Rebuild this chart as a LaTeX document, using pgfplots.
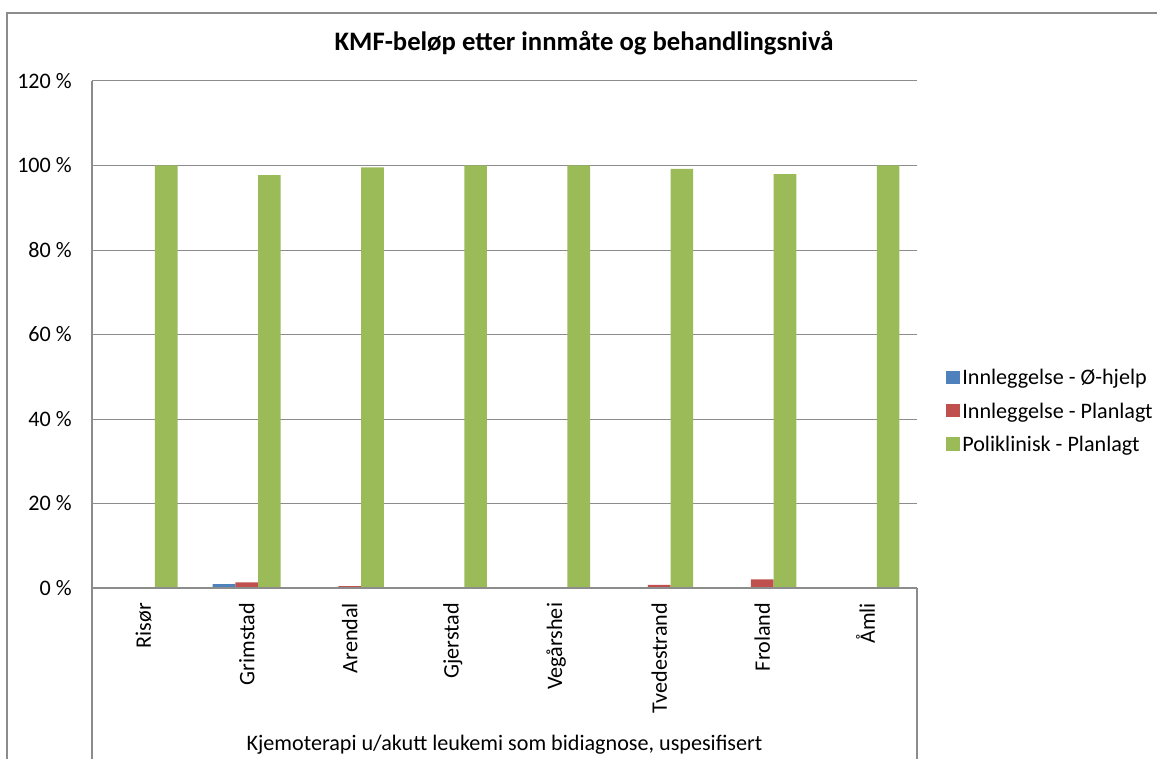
\documentclass[border=0pt]{standalone}
\usepackage{fontspec}
\setmainfont{Carlito}
\usepackage{pgfplots}
\pgfplotsset{compat=1.18}
\definecolor{cBlue}{HTML}{4F81BD}
\definecolor{cRed}{HTML}{C0504D}
\definecolor{cGreen}{HTML}{9BBB59}
\definecolor{cGrid}{HTML}{8C8C8C}
\begin{document}
\fontsize{16.6pt}{20pt}\selectfont
\begin{tikzpicture}
\path[use as bounding box] (0,0) rectangle (867.75pt,568.5pt);
\draw[cGrid, line width=1pt] (5.25pt,-2pt) -- (5.25pt,558.75pt) -- (870pt,558.75pt);
\node[font=\fontsize{20pt}{24pt}\selectfont\bfseries] at (438pt,536.25pt) {KMF-beløp etter innmåte og behandlingsnivå};
\begin{axis}[
  at={(69pt,127.5pt)}, anchor=south west, scale only axis,
  width=618.75pt, height=380.25pt,
  xmin=-0.5, xmax=7.5, ymin=0, ymax=120,
  ybar=0pt, bar width=17pt,
  axis line style={draw=none},
  ytick={0,20,40,60,80,100,120},
  yticklabels={0 \%,20 \%,40 \%,60 \%,80 \%,100 \%,120 \%},
  ymajorgrids, grid style={cGrid, line width=0.75pt},
  xtick={0,1,2,3,4,5,6,7},
  xticklabels={Risør,Grimstad,Arendal,Gjerstad,Vegårshei,Tvedestrand,Froland,Åmli},
  major tick length=0pt,
  xticklabel style={rotate=90, anchor=east, inner sep=0pt},
  xticklabel shift=11pt,
  yticklabel style={anchor=east, inner sep=0pt},
  yticklabel shift=15pt,
  clip=false,
  legend style={at={(1.0352,0.347)}, anchor=west, draw=none, fill=none, row sep=7pt, inner sep=0pt},
  legend cell align=left,
  legend image code/.code={\fill[#1] (-1.5pt,-4pt) rectangle (8.5pt,6pt);},
]
\addplot[fill=cBlue, draw=none] coordinates {(0,0) (1,0.9) (2,0) (3,0) (4,0) (5,0) (6,0) (7,0)};
\addplot[fill=cRed, draw=none] coordinates {(0,0) (1,1.35) (2,0.46) (3,0) (4,0) (5,0.77) (6,2.05) (7,0)};
\addplot[fill=cGreen, draw=none] coordinates {(0,100) (1,97.75) (2,99.54) (3,100) (4,100) (5,99.23) (6,97.95) (7,100)};
\legend{Innleggelse - Ø-hjelp,Innleggelse - Planlagt,Poliklinisk - Planlagt}
\draw[cGrid, line width=1pt] (rel axis cs:0,0) -- (rel axis cs:1,0);
\draw[cGrid, line width=1pt] (rel axis cs:0,1) -- ([yshift=-135pt]rel axis cs:0,0);
\draw[cGrid, line width=1pt] (rel axis cs:1,0) -- ([yshift=-135pt]rel axis cs:1,0);
\node[anchor=center] at ([yshift=-117.75pt]rel axis cs:0.5,0) {Kjemoterapi u/akutt leukemi som bidiagnose, uspesifisert};
\end{axis}
\end{tikzpicture}
\end{document}
